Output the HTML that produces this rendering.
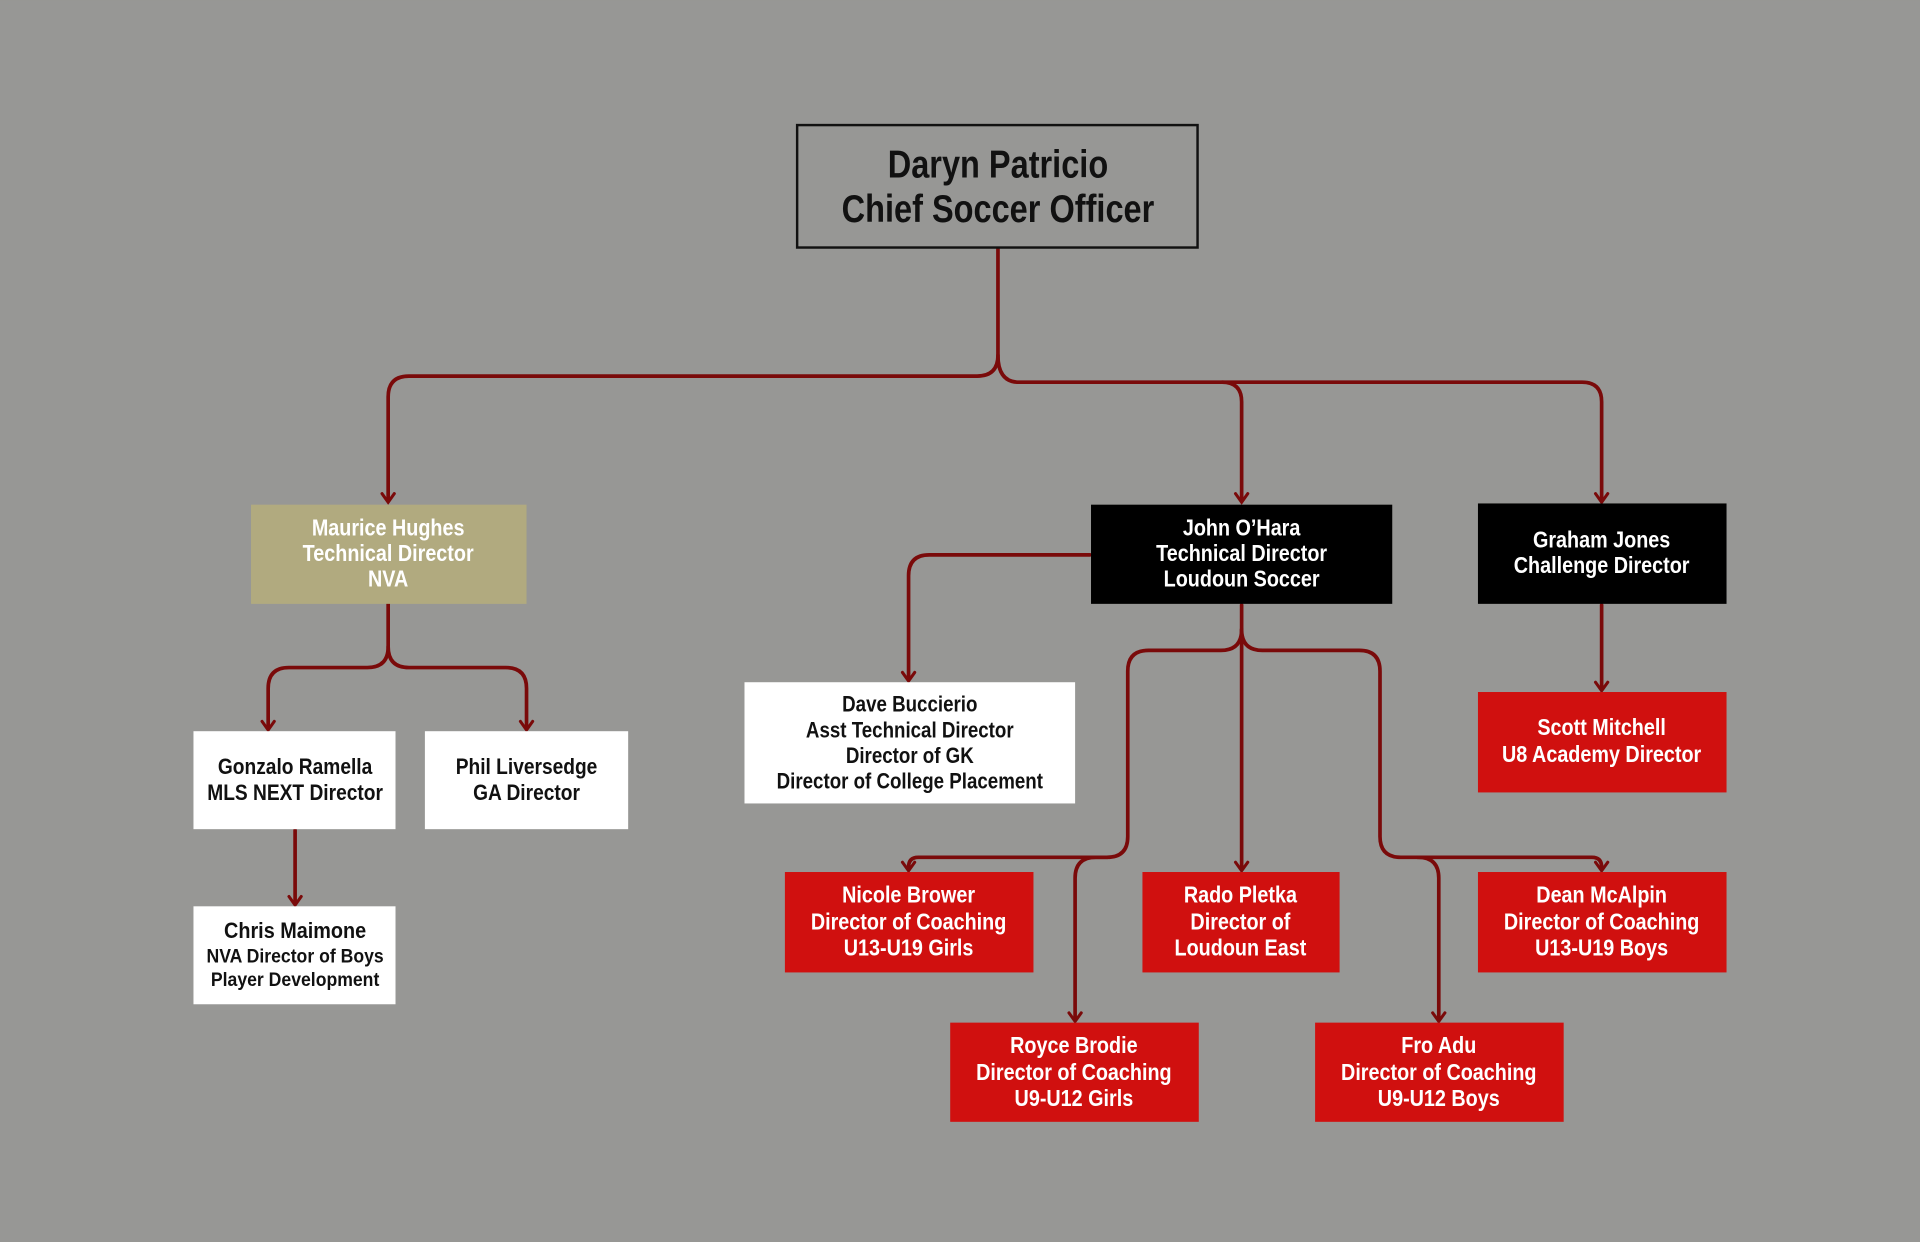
<!DOCTYPE html>
<html><head><meta charset="utf-8">
<style>
html,body{margin:0;padding:0;background:#979795;}
svg{display:block}
text{font-family:"Liberation Sans Narrow","Liberation Sans",sans-serif;font-weight:bold;text-anchor:middle;}
</style></head><body>
<svg width="1920" height="1242" viewBox="0 0 1568 1014" xmlns="http://www.w3.org/2000/svg">
<rect x="0" y="0" width="1568" height="1014" fill="#979795"/>
<g fill="none" stroke="#7a0a0a" stroke-width="3" stroke-linejoin="round" stroke-linecap="round">
<path d="M815 203 V290 Q815 307 798 307 H334 Q317 307 317 324 V409"/>
<path d="M815 290 Q815 312 832 312 H998 Q1014 312 1014 328 V409"/>
<path d="M998 312 H1292 Q1308 312 1308 328 V409"/>
<path d="M317 493 V528 Q317 545 300 545 H236 Q219 545 219 562 V595"/>
<path d="M317 528 Q317 545 334 545 H413 Q430 545 430 562 V595"/>
<path d="M241 678 V737"/>
<path d="M890 453 H759 Q742 453 742 470 V554"/>
<path d="M1014 494 V710"/>
<path d="M1014 514 Q1014 531 997 531 H938 Q921 531 921 548 V683 Q921 700 904 700 H895 Q878 700 878 717 V832"/>
<path d="M904 700 H750 Q742 700 742 708 V710"/>
<path d="M1014 514 Q1014 531 1031 531 H1110 Q1127 531 1127 548 V683 Q1127 700 1144 700 H1158 Q1175 700 1175 717 V832"/>
<path d="M1158 700 H1300 Q1308 700 1308 708 V710"/>
<path d="M1308 494 V562"/>
</g>
<g fill="none" stroke="#7a0a0a" stroke-width="2.5" stroke-linecap="round">
<path d="M312 403 L317 410 L322 403"/>
<path d="M1009 403 L1014 410 L1019 403"/>
<path d="M1303 403 L1308 410 L1313 403"/>
<path d="M214 589 L219 596 L224 589"/>
<path d="M425 589 L430 596 L435 589"/>
<path d="M236 732 L241 739 L246 732"/>
<path d="M737 549 L742 556 L747 549"/>
<path d="M1303 557 L1308 564 L1313 557"/>
<path d="M737 704 L742 711 L747 704"/>
<path d="M1009 704 L1014 711 L1019 704"/>
<path d="M1303 704 L1308 711 L1313 704"/>
<path d="M873 827 L878 834 L883 827"/>
<path d="M1170 827 L1175 834 L1180 827"/>
</g>
<rect x="651" y="102" width="327" height="100" fill="none" stroke="#111" stroke-width="2"/>
<g transform="translate(815,0) scale(0.83,1) translate(-815,0)">
<text x="815" y="145" font-size="32" fill="#111">Daryn Patricio</text>
<text x="815" y="181" font-size="32" fill="#111">Chief Soccer Officer</text>
</g>
<rect x="205" y="412" width="225" height="81" fill="#b1aa7f"/>
<g font-size="19" fill="#fff" transform="translate(317,0) scale(0.85,1) translate(-317,0)"><text x="317" y="437">Maurice Hughes</text><text x="317" y="458">Technical Director</text><text x="317" y="479">NVA</text></g>
<rect x="891" y="412" width="246" height="81" fill="#000"/>
<g font-size="19" fill="#fff" transform="translate(1014,0) scale(0.85,1) translate(-1014,0)"><text x="1014" y="437">John O’Hara</text><text x="1014" y="458">Technical Director</text><text x="1014" y="479">Loudoun Soccer</text></g>
<rect x="1207" y="411" width="203" height="82" fill="#000"/>
<g font-size="19" fill="#fff" transform="translate(1308,0) scale(0.85,1) translate(-1308,0)"><text x="1308" y="447">Graham Jones</text><text x="1308" y="468">Challenge Director</text></g>
<rect x="608" y="557" width="270" height="99" fill="#fff"/>
<g font-size="18" fill="#111" transform="translate(743,0) scale(0.85,1) translate(-743,0)"><text x="743" y="581">Dave Buccierio</text><text x="743" y="602">Asst Technical Director</text><text x="743" y="623">Director of GK</text><text x="743" y="644">Director of College Placement</text></g>
<rect x="158" y="597" width="165" height="80" fill="#fff"/>
<g font-size="18" fill="#111" transform="translate(241,0) scale(0.87,1) translate(-241,0)"><text x="241" y="632">Gonzalo Ramella</text><text x="241" y="653">MLS NEXT Director</text></g>
<rect x="347" y="597" width="166" height="80" fill="#fff"/>
<g font-size="18" fill="#111" transform="translate(430,0) scale(0.87,1) translate(-430,0)"><text x="430" y="632">Phil Liversedge</text><text x="430" y="653">GA Director</text></g>
<rect x="158" y="740" width="165" height="80" fill="#fff"/>
<g fill="#111" transform="translate(241,0) scale(0.9,1) translate(-241,0)"><text x="241" y="766" font-size="18">Chris Maimone</text><text x="241" y="786" font-size="16">NVA Director of Boys</text><text x="241" y="805" font-size="16">Player Development</text></g>
<g fill="#d0100f">
<rect x="1207" y="565" width="203" height="82"/>
<rect x="641" y="712" width="203" height="82"/>
<rect x="933" y="712" width="161" height="82"/>
<rect x="1207" y="712" width="203" height="82"/>
<rect x="776" y="835" width="203" height="81"/>
<rect x="1074" y="835" width="203" height="81"/>
</g>
<g font-size="19" fill="#fff">
<g transform="translate(1308,0) scale(0.85,1) translate(-1308,0)"><text x="1308" y="600">Scott Mitchell</text><text x="1308" y="622">U8 Academy Director</text></g>
<g transform="translate(742,0) scale(0.85,1) translate(-742,0)"><text x="742" y="737">Nicole Brower</text><text x="742" y="759">Director of Coaching</text><text x="742" y="780">U13-U19 Girls</text></g>
<g transform="translate(1013,0) scale(0.85,1) translate(-1013,0)"><text x="1013" y="737">Rado Pletka</text><text x="1013" y="759">Director of</text><text x="1013" y="780">Loudoun East</text></g>
<g transform="translate(1308,0) scale(0.85,1) translate(-1308,0)"><text x="1308" y="737">Dean McAlpin</text><text x="1308" y="759">Director of Coaching</text><text x="1308" y="780">U13-U19 Boys</text></g>
<g transform="translate(877,0) scale(0.85,1) translate(-877,0)"><text x="877" y="860">Royce Brodie</text><text x="877" y="882">Director of Coaching</text><text x="877" y="903">U9-U12 Girls</text></g>
<g transform="translate(1175,0) scale(0.85,1) translate(-1175,0)"><text x="1175" y="860">Fro Adu</text><text x="1175" y="882">Director of Coaching</text><text x="1175" y="903">U9-U12 Boys</text></g>
</g>
</svg>
</body></html>
